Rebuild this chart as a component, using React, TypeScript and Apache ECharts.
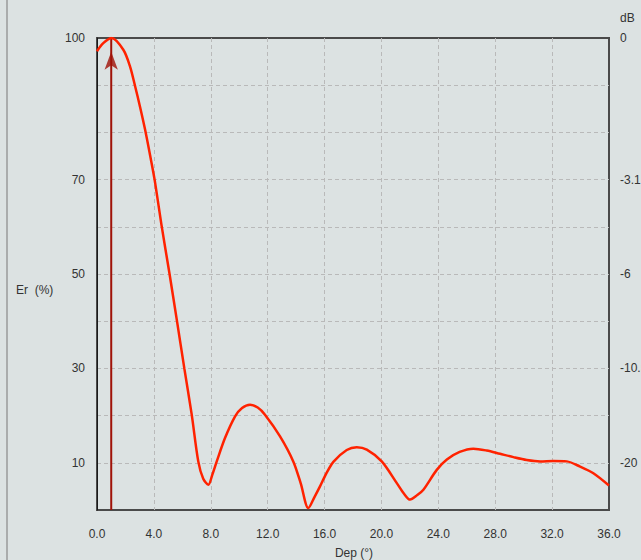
import React, { useEffect, useRef } from "react";
import * as echarts from "echarts";

// Curve: Er (%) vs Dep (°)
const depValues = [
  0, 0.44, 1.03, 1.85, 2.32, 2.67, 3.02, 3.38, 3.73, 4.05, 4.55, 5.09, 5.6, 6.14, 6.66,
  7.12, 7.47, 7.83, 8.1, 8.42, 9.0, 9.7, 10.2, 10.76, 11.3, 11.81, 12.87, 13.8, 14.33, 14.86,
  15.3, 15.68, 16.1, 16.62, 17.56, 18.26, 18.97, 20.02, 21.08, 21.6, 22.01, 22.5, 22.95, 23.89,
  24.6, 25.5, 26.46, 27.4, 28.34, 29.28, 30.22, 31.15, 32.09, 33.03, 33.97, 34.9, 36.0,
];
const erValues = [
  97.2, 98.9, 100, 97.5, 94, 89.9, 85.5, 80.6, 75.2, 70, 60.1, 50.2, 40.5, 30, 20.2,
  10.3, 6.6, 5.36, 7.4, 10.3, 15.25, 19.8, 21.6, 22.3, 21.7, 20.2, 15.6, 10.3, 5.6, 0.4,
  2.8, 5.0, 7.6, 10.2, 12.7, 13.3, 12.8, 10.3, 5.7, 3.4, 2.2, 3.1, 4.3, 8.5,
  10.7, 12.3, 13.0, 12.6, 11.9, 11.2, 10.6, 10.3, 10.4, 10.3, 9.2, 7.8, 5.2,
];

// Marker direction
const markerDep = 1.0;
const markerArrowEr = 97.1;

// Axis ticks
const xTickStep = 4;
const leftTickValues = [10, 30, 50, 70, 100];
const rightTickLabels = ["-20", "-10.5", "-6", "-3.1", "0"];

export default function App() {
  const ref = useRef<HTMLDivElement>(null);

  useEffect(() => {
    if (!ref.current) return;
    const chart = echarts.init(ref.current, null, { renderer: "svg" });
    const font = "Liberation Sans";
    const textColor = "#333333";
    const curve = depValues.map((d, i) => [d, erValues[i]]);
    const gridLine = {
      show: true,
      showMinLine: false,
      showMaxLine: false,
      lineStyle: { color: "#b9b9b9", type: [4, 3], width: 1 },
    };

    chart.setOption({
      animation: false,
      backgroundColor: "#dce2e2",
      grid: {
        left: 97,
        top: 38,
        right: 32,
        bottom: 50,
        show: true,
        borderColor: "#4a4a4a",
        borderWidth: 2,
        backgroundColor: "transparent",
        containLabel: false,
        outerBoundsMode: "none",
      },
      xAxis: {
        type: "value",
        min: 0,
        max: 36,
        interval: xTickStep,
        axisLine: { show: false },
        axisTick: { show: false },
        axisLabel: {
          formatter: (v: number) => v.toFixed(1),
          margin: 18,
          color: textColor,
          fontSize: 12,
          fontFamily: font,
        },
        splitLine: gridLine,
      },
      yAxis: [
        {
          type: "value",
          min: 0,
          max: 100,
          interval: 10,
          axisLine: { show: true, lineStyle: { color: "#1a1a1a", width: 1 } },
          axisTick: { show: false },
          axisLabel: {
            formatter: (v: number) => (leftTickValues.includes(v) ? String(v) : ""),
            margin: 12,
            color: textColor,
            fontSize: 12,
            fontFamily: font,
          },
          splitLine: gridLine,
        },
        {
          type: "value",
          position: "right",
          min: 0,
          max: 100,
          interval: 10,
          axisLine: { show: false },
          axisTick: { show: false },
          axisLabel: {
            formatter: (v: number) => {
              const idx = leftTickValues.indexOf(v);
              return idx >= 0 ? rightTickLabels[idx] : "";
            },
            margin: 11,
            color: textColor,
            fontSize: 12,
            fontFamily: font,
          },
          splitLine: { show: false },
        },
      ],
      series: [
        {
          type: "line",
          data: [
            [markerDep, 0],
            [markerDep, 100],
          ],
          symbol: "none",
          lineStyle: { color: "#a01208", width: 2 },
          z: 2,
        },
        {
          type: "scatter",
          data: [[markerDep, markerArrowEr]],
          symbol: "arrow",
          symbolSize: [10, 18],
          itemStyle: { color: "#a01208" },
          z: 2,
        },
        {
          type: "line",
          data: curve,
          smooth: 0.3,
          symbol: "none",
          lineStyle: { color: "#ff2200", width: 2.5 },
          z: 3,
        },
      ],
      graphic: [
        {
          type: "line",
          shape: { x1: 7, y1: 0, x2: 7, y2: 560 },
          style: { stroke: "#9a9a9a", lineWidth: 1.5 },
        },
        {
          type: "text",
          x: 16,
          y: 290,
          style: { text: "Er  (%)", fill: textColor, font: `12px '${font}'`, verticalAlign: "middle" },
        },
        {
          type: "text",
          x: 620,
          y: 18,
          style: { text: "dB", fill: textColor, font: `12px '${font}'`, verticalAlign: "middle" },
        },
        {
          type: "text",
          x: 354,
          y: 553,
          style: {
            text: "Dep (°)",
            fill: textColor,
            font: `12px '${font}'`,
            align: "center",
            verticalAlign: "middle",
          },
        },
      ],
    });
    return () => chart.dispose();
  }, []);

  return (
    <div
      ref={ref}
      style={{ position: "fixed", left: 0, top: 0, width: 641, height: 560 }}
    />
  );
}
